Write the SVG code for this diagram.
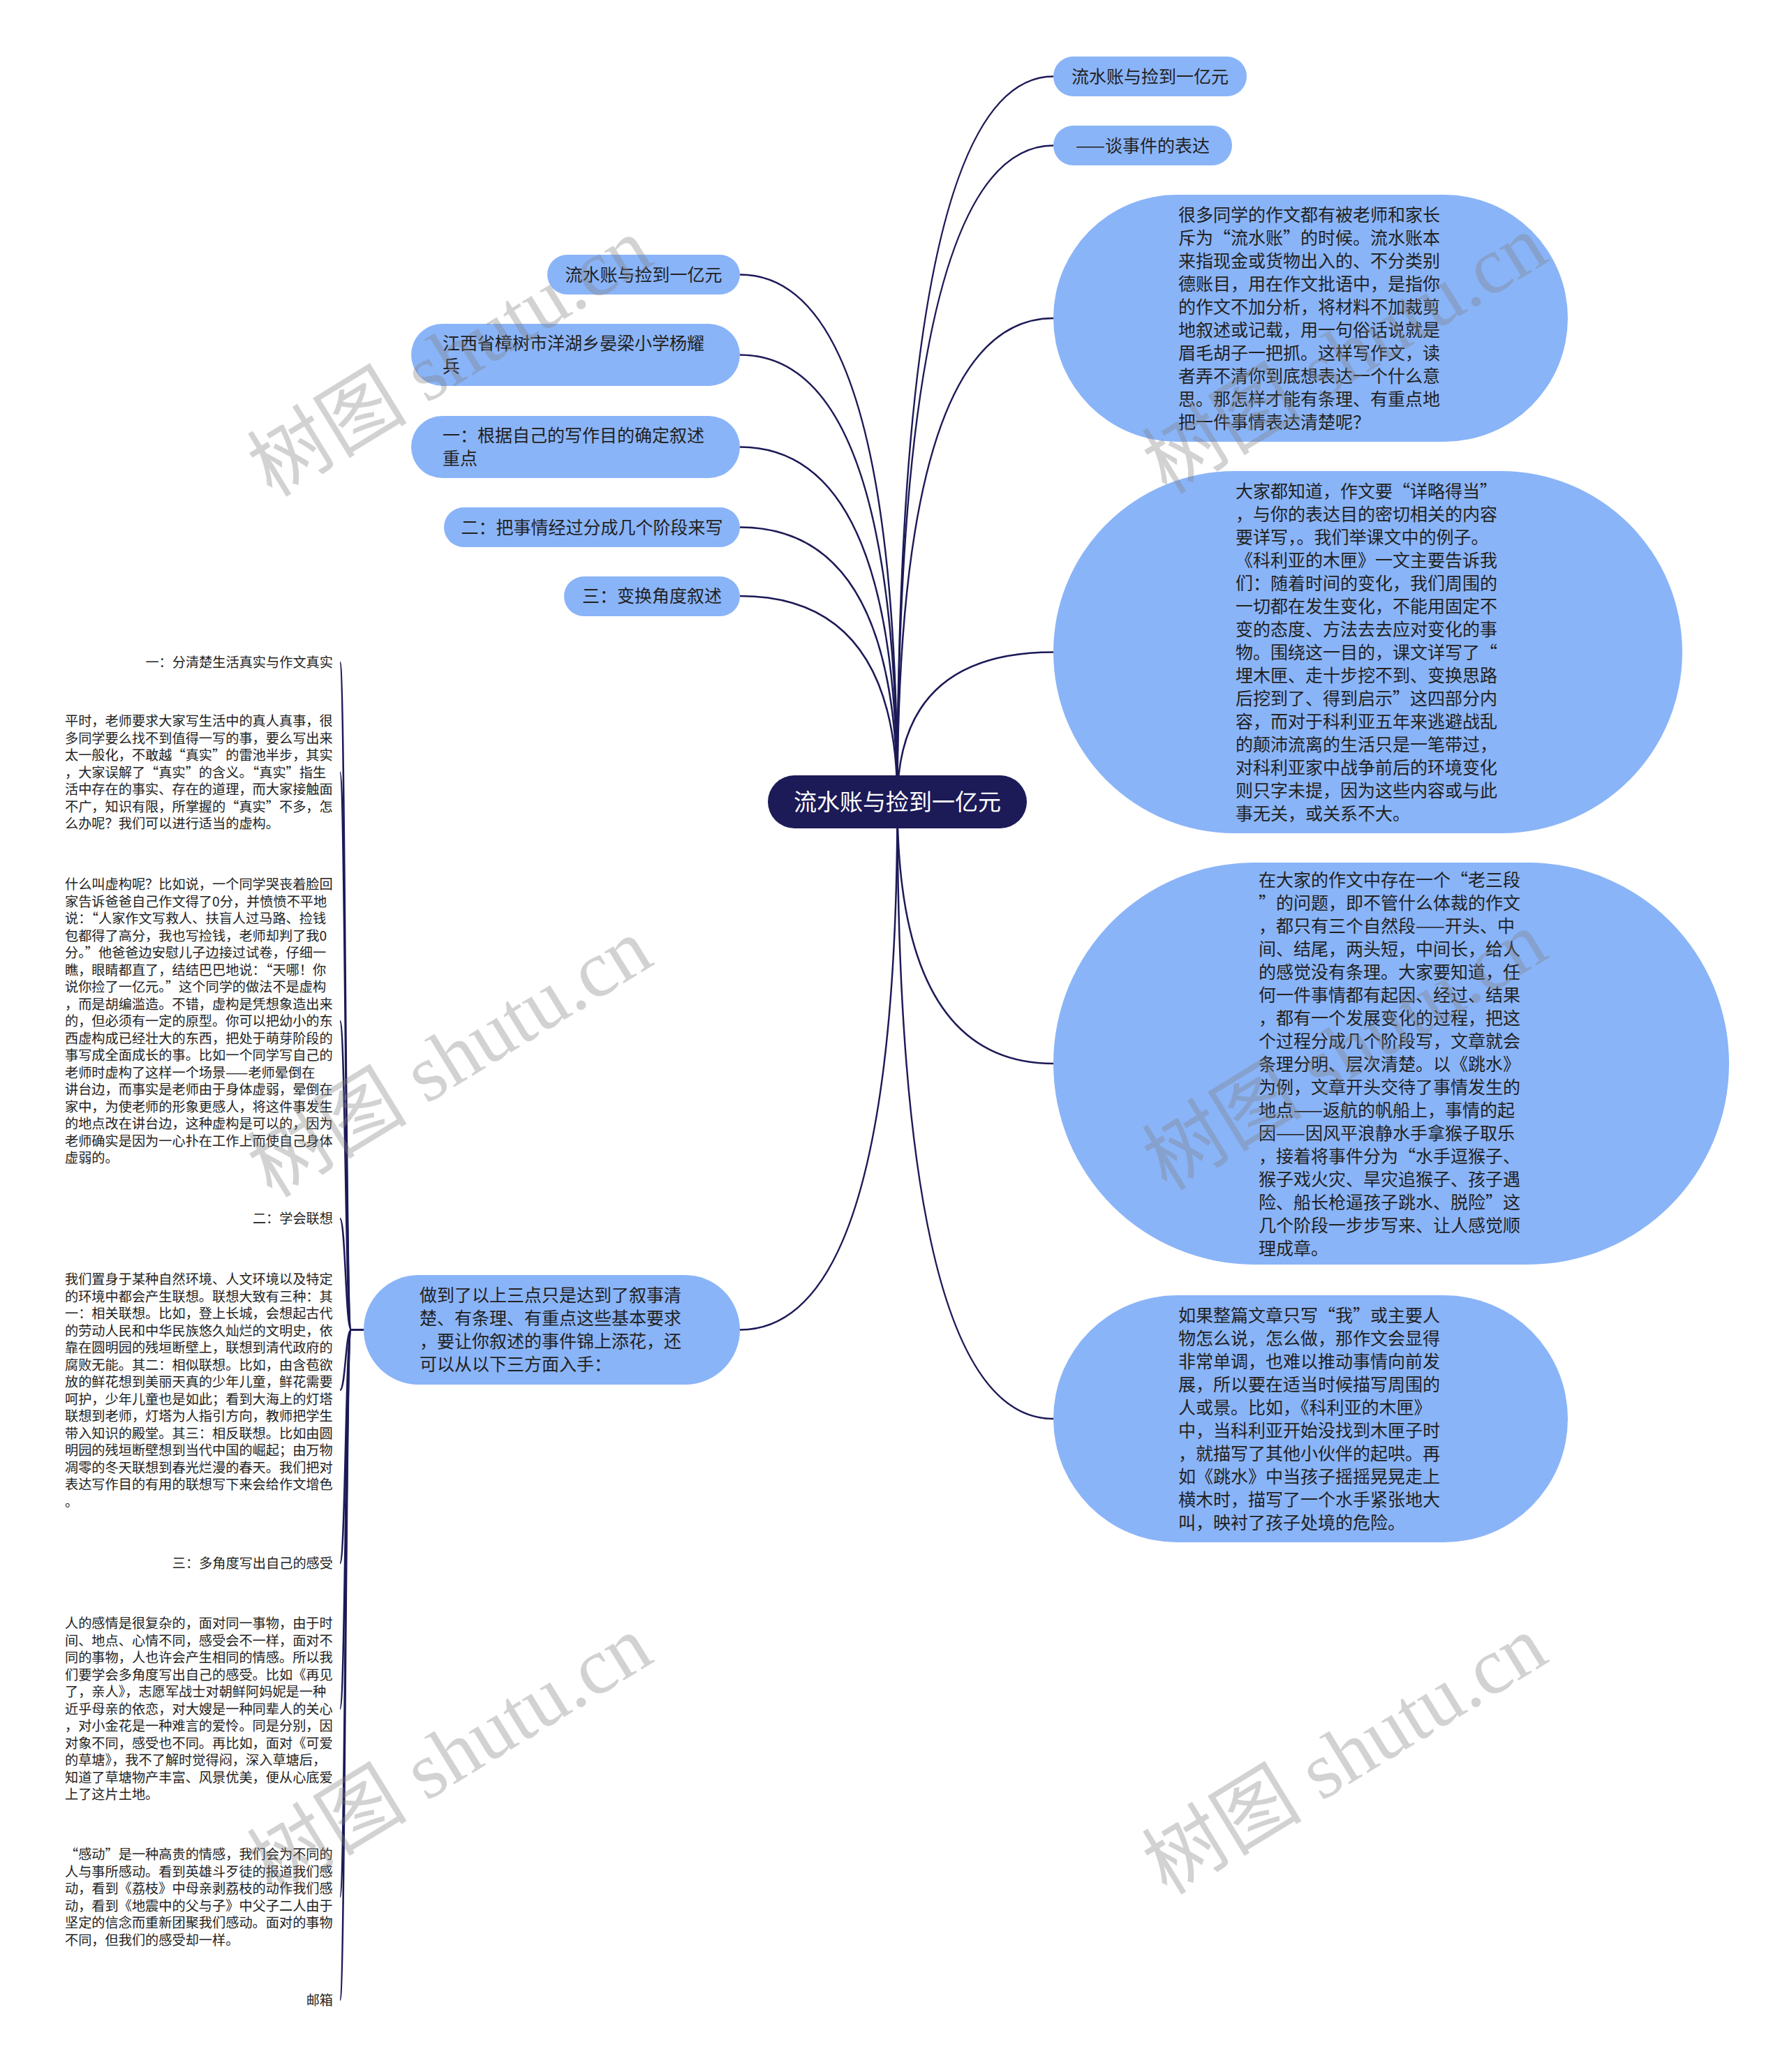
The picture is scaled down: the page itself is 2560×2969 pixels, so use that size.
<svg xmlns="http://www.w3.org/2000/svg" width="2560" height="2969" viewBox="0 0 2560 2969">
<style>
.n{fill:#8ab4f8}
.root{fill:#1c1a57}
.t{font-family:'Noto Sans CJK SC','Liberation Sans',sans-serif;font-size:25px;fill:#222}
.rt{font-family:'Noto Sans CJK SC','Liberation Sans',sans-serif;font-size:33px;fill:#fff}
.s{font-family:'Noto Sans CJK SC','Liberation Sans',sans-serif;font-size:19.2px;fill:#222}
.c{fill:none;stroke:#1c1a57;stroke-width:2.5}
.wm{font-family:'Liberation Serif','Noto Sans CJK SC',serif;font-size:115px;fill:#808080;opacity:0.35}
</style>
<rect width="2560" height="2969" fill="#fff"/>
<g id="connectors">
<path class="c" d="M1285.5 1149 Q1285.5 109.5 1509 109.5"/>
<path class="c" d="M1285.5 1149 Q1285.5 208.5 1509 208.5"/>
<path class="c" d="M1285.5 1149 Q1285.5 456 1509 456"/>
<path class="c" d="M1285.5 1149 Q1285.5 934.5 1509 934.5"/>
<path class="c" d="M1285.5 1149 Q1285.5 1524 1509 1524"/>
<path class="c" d="M1285.5 1149 Q1285.5 2033 1509 2033"/>
<path class="c" d="M1285.5 1149 Q1285.5 393.5 1060 393.5"/>
<path class="c" d="M1285.5 1149 Q1285.5 508.5 1060 508.5"/>
<path class="c" d="M1285.5 1149 Q1285.5 640.5 1060 640.5"/>
<path class="c" d="M1285.5 1149 Q1285.5 755.5 1060 755.5"/>
<path class="c" d="M1285.5 1149 Q1285.5 854 1060 854"/>
<path class="c" d="M1285.5 1149 Q1285.5 1905.5 1060 1905.5"/>
<path class="c" d="M521 1905.5 H503 C495 1905.5 495 949 487 949"/>
<path class="c" d="M521 1905.5 H503 C495 1905.5 495 1106.5 487 1106.5"/>
<path class="c" d="M521 1905.5 H503 C495 1905.5 495 1463 487 1463"/>
<path class="c" d="M521 1905.5 H503 C495 1905.5 495 1746 487 1746"/>
<path class="c" d="M521 1905.5 H503 C495 1905.5 495 1992 487 1992"/>
<path class="c" d="M521 1905.5 H503 C495 1905.5 495 2240 487 2240"/>
<path class="c" d="M521 1905.5 H503 C495 1905.5 495 2448.5 487 2448.5"/>
<path class="c" d="M521 1905.5 H503 C495 1905.5 495 2718 487 2718"/>
<path class="c" d="M521 1905.5 H503 C495 1905.5 495 2866 487 2866"/>
</g>
<g id="root">
<rect class="root" x="1100" y="1111" width="371" height="76" rx="38"/>
<text class="rt" x="1285.5" y="1161" text-anchor="middle">流水账与捡到一亿元</text>
</g>
<g id="r1">
<rect class="n" x="1509" y="81" width="277" height="57" rx="28.5"/>
<text class="t" x="1647.5" y="118.5" text-anchor="middle">流水账与捡到一亿元</text>
</g>
<g id="r2">
<rect class="n" x="1509" y="180" width="256" height="57" rx="28.5"/>
<text class="t" x="1637" y="217.5" text-anchor="middle">——谈事件的表达</text>
</g>
<g id="r3">
<rect class="n" x="1509" y="279" width="737" height="354" rx="177"/>
<text class="t" x="1688" y="317"><tspan>很多同学的作文都有被老师和家长</tspan><tspan x="1688" dy="33">斥为“流水账”的时候。流水账本</tspan><tspan x="1688" dy="33">来指现金或货物出入的、不分类别</tspan><tspan x="1688" dy="33">德账目，用在作文批语中，是指你</tspan><tspan x="1688" dy="33">的作文不加分析，将材料不加裁剪</tspan><tspan x="1688" dy="33">地叙述或记载，用一句俗话说就是</tspan><tspan x="1688" dy="33">眉毛胡子一把抓。这样写作文，读</tspan><tspan x="1688" dy="33">者弄不清你到底想表达一个什么意</tspan><tspan x="1688" dy="33">思。那怎样才能有条理、有重点地</tspan><tspan x="1688" dy="33">把一件事情表达清楚呢？</tspan></text>
</g>
<g id="r4">
<rect class="n" x="1509" y="675" width="901" height="519" rx="259.5"/>
<text class="t" x="1770" y="713"><tspan>大家都知道，作文要“详略得当”</tspan><tspan x="1770" dy="33">，与你的表达目的密切相关的内容</tspan><tspan x="1770" dy="33">要详写，。我们举课文中的例子。</tspan><tspan x="1770" dy="33">《科利亚的木匣》一文主要告诉我</tspan><tspan x="1770" dy="33">们：随着时间的变化，我们周围的</tspan><tspan x="1770" dy="33">一切都在发生变化，不能用固定不</tspan><tspan x="1770" dy="33">变的态度、方法去去应对变化的事</tspan><tspan x="1770" dy="33">物。围绕这一目的，课文详写了“</tspan><tspan x="1770" dy="33">埋木匣、走十步挖不到、变换思路</tspan><tspan x="1770" dy="33">后挖到了、得到启示”这四部分内</tspan><tspan x="1770" dy="33">容，而对于科利亚五年来逃避战乱</tspan><tspan x="1770" dy="33">的颠沛流离的生活只是一笔带过，</tspan><tspan x="1770" dy="33">对科利亚家中战争前后的环境变化</tspan><tspan x="1770" dy="33">则只字未提，因为这些内容或与此</tspan><tspan x="1770" dy="33">事无关，或关系不大。</tspan></text>
</g>
<g id="r5">
<rect class="n" x="1509" y="1236" width="968" height="576" rx="288"/>
<text class="t" x="1803" y="1269.5"><tspan>在大家的作文中存在一个“老三段</tspan><tspan x="1803" dy="33">”的问题，即不管什么体裁的作文</tspan><tspan x="1803" dy="33">，都只有三个自然段——开头、中</tspan><tspan x="1803" dy="33">间、结尾，两头短，中间长，给人</tspan><tspan x="1803" dy="33">的感觉没有条理。大家要知道，任</tspan><tspan x="1803" dy="33">何一件事情都有起因、经过、结果</tspan><tspan x="1803" dy="33">，都有一个发展变化的过程，把这</tspan><tspan x="1803" dy="33">个过程分成几个阶段写，文章就会</tspan><tspan x="1803" dy="33">条理分明、层次清楚。以《跳水》</tspan><tspan x="1803" dy="33">为例，文章开头交待了事情发生的</tspan><tspan x="1803" dy="33">地点——返航的帆船上，事情的起</tspan><tspan x="1803" dy="33">因——因风平浪静水手拿猴子取乐</tspan><tspan x="1803" dy="33">，接着将事件分为“水手逗猴子、</tspan><tspan x="1803" dy="33">猴子戏火灾、旱灾追猴子、孩子遇</tspan><tspan x="1803" dy="33">险、船长枪逼孩子跳水、脱险”这</tspan><tspan x="1803" dy="33">几个阶段一步步写来、让人感觉顺</tspan><tspan x="1803" dy="33">理成章。</tspan></text>
</g>
<g id="r6">
<rect class="n" x="1509" y="1856" width="737" height="354" rx="177"/>
<text class="t" x="1688" y="1894"><tspan>如果整篇文章只写“我”或主要人</tspan><tspan x="1688" dy="33">物怎么说，怎么做，那作文会显得</tspan><tspan x="1688" dy="33">非常单调，也难以推动事情向前发</tspan><tspan x="1688" dy="33">展，所以要在适当时候描写周围的</tspan><tspan x="1688" dy="33">人或景。比如，《科利亚的木匣》</tspan><tspan x="1688" dy="33">中，当科利亚开始没找到木匣子时</tspan><tspan x="1688" dy="33">，就描写了其他小伙伴的起哄。再</tspan><tspan x="1688" dy="33">如《跳水》中当孩子摇摇晃晃走上</tspan><tspan x="1688" dy="33">横木时，描写了一个水手紧张地大</tspan><tspan x="1688" dy="33">叫，映衬了孩子处境的危险。</tspan></text>
</g>
<g id="l1">
<rect class="n" x="784" y="365" width="276" height="57" rx="28.5"/>
<text class="t" x="922" y="402.5" text-anchor="middle">流水账与捡到一亿元</text>
</g>
<g id="l2">
<rect class="n" x="589" y="464" width="471" height="89" rx="44.5"/>
<text class="t" x="634" y="501"><tspan>江西省樟树市洋湖乡晏梁小学杨耀</tspan><tspan x="634" dy="33">兵</tspan></text>
</g>
<g id="l3">
<rect class="n" x="589" y="596" width="471" height="89" rx="44.5"/>
<text class="t" x="634" y="633"><tspan>一：根据自己的写作目的确定叙述</tspan><tspan x="634" dy="33">重点</tspan></text>
</g>
<g id="l4">
<rect class="n" x="636" y="727" width="424" height="57" rx="28.5"/>
<text class="t" x="848" y="764.5" text-anchor="middle">二：把事情经过分成几个阶段来写</text>
</g>
<g id="l5">
<rect class="n" x="808" y="826" width="252" height="57" rx="28.5"/>
<text class="t" x="934" y="863" text-anchor="middle">三：变换角度叙述</text>
</g>
<g id="l6">
<rect class="n" x="521" y="1827" width="539" height="157" rx="78.5"/>
<text class="t" x="601" y="1865"><tspan>做到了以上三点只是达到了叙事清</tspan><tspan x="601" dy="33">楚、有条理、有重点这些基本要求</tspan><tspan x="601" dy="33">，要让你叙述的事件锦上添花，还</tspan><tspan x="601" dy="33">可以从以下三方面入手：</tspan></text>
</g>
<g id="c1">
<text class="s" x="477" y="956" text-anchor="end">一：分清楚生活真实与作文真实</text>
</g>
<g id="c2">
<text class="s" x="93" y="1040"><tspan>平时，老师要求大家写生活中的真人真事，很</tspan><tspan x="93" dy="24.5">多同学要么找不到值得一写的事，要么写出来</tspan><tspan x="93" dy="24.5">太一般化，不敢越“真实”的雷池半步，其实</tspan><tspan x="93" dy="24.5">，大家误解了“真实”的含义。“真实”指生</tspan><tspan x="93" dy="24.5">活中存在的事实、存在的道理，而大家接触面</tspan><tspan x="93" dy="24.5">不广，知识有限，所掌握的“真实”不多，怎</tspan><tspan x="93" dy="24.5">么办呢？我们可以进行适当的虚构。</tspan></text>
</g>
<g id="c3">
<text class="s" x="93" y="1274"><tspan>什么叫虚构呢？比如说，一个同学哭丧着脸回</tspan><tspan x="93" dy="24.5">家告诉爸爸自己作文得了0分，并愤愤不平地</tspan><tspan x="93" dy="24.5">说：“人家作文写救人、扶盲人过马路、捡钱</tspan><tspan x="93" dy="24.5">包都得了高分，我也写捡钱，老师却判了我0</tspan><tspan x="93" dy="24.5">分。”他爸爸边安慰儿子边接过试卷，仔细一</tspan><tspan x="93" dy="24.5">瞧，眼睛都直了，结结巴巴地说：“天哪！你</tspan><tspan x="93" dy="24.5">说你捡了一亿元。”这个同学的做法不是虚构</tspan><tspan x="93" dy="24.5">，而是胡编滥造。不错，虚构是凭想象造出来</tspan><tspan x="93" dy="24.5">的，但必须有一定的原型。你可以把幼小的东</tspan><tspan x="93" dy="24.5">西虚构成已经壮大的东西，把处于萌芽阶段的</tspan><tspan x="93" dy="24.5">事写成全面成长的事。比如一个同学写自己的</tspan><tspan x="93" dy="24.5">老师时虚构了这样一个场景——老师晕倒在</tspan><tspan x="93" dy="24.5">讲台边，而事实是老师由于身体虚弱，晕倒在</tspan><tspan x="93" dy="24.5">家中，为使老师的形象更感人，将这件事发生</tspan><tspan x="93" dy="24.5">的地点改在讲台边，这种虚构是可以的，因为</tspan><tspan x="93" dy="24.5">老师确实是因为一心扑在工作上而使自己身体</tspan><tspan x="93" dy="24.5">虚弱的。</tspan></text>
</g>
<g id="c4">
<text class="s" x="477" y="1753" text-anchor="end">二：学会联想</text>
</g>
<g id="c5">
<text class="s" x="93" y="1840"><tspan>我们置身于某种自然环境、人文环境以及特定</tspan><tspan x="93" dy="24.5">的环境中都会产生联想。联想大致有三种：其</tspan><tspan x="93" dy="24.5">一：相关联想。比如，登上长城，会想起古代</tspan><tspan x="93" dy="24.5">的劳动人民和中华民族悠久灿烂的文明史，依</tspan><tspan x="93" dy="24.5">靠在圆明园的残垣断壁上，联想到清代政府的</tspan><tspan x="93" dy="24.5">腐败无能。其二：相似联想。比如，由含苞欲</tspan><tspan x="93" dy="24.5">放的鲜花想到美丽天真的少年儿童，鲜花需要</tspan><tspan x="93" dy="24.5">呵护，少年儿童也是如此；看到大海上的灯塔</tspan><tspan x="93" dy="24.5">联想到老师，灯塔为人指引方向，教师把学生</tspan><tspan x="93" dy="24.5">带入知识的殿堂。其三：相反联想。比如由圆</tspan><tspan x="93" dy="24.5">明园的残垣断壁想到当代中国的崛起；由万物</tspan><tspan x="93" dy="24.5">凋零的冬天联想到春光烂漫的春天。我们把对</tspan><tspan x="93" dy="24.5">表达写作目的有用的联想写下来会给作文增色</tspan><tspan x="93" dy="24.5">。</tspan></text>
</g>
<g id="c6">
<text class="s" x="477" y="2247" text-anchor="end">三：多角度写出自己的感受</text>
</g>
<g id="c7">
<text class="s" x="93" y="2333"><tspan>人的感情是很复杂的，面对同一事物，由于时</tspan><tspan x="93" dy="24.5">间、地点、心情不同，感受会不一样，面对不</tspan><tspan x="93" dy="24.5">同的事物，人也许会产生相同的情感。所以我</tspan><tspan x="93" dy="24.5">们要学会多角度写出自己的感受。比如《再见</tspan><tspan x="93" dy="24.5">了，亲人》，志愿军战士对朝鲜阿妈妮是一种</tspan><tspan x="93" dy="24.5">近乎母亲的依恋，对大嫂是一种同辈人的关心</tspan><tspan x="93" dy="24.5">，对小金花是一种难言的爱怜。同是分别，因</tspan><tspan x="93" dy="24.5">对象不同，感受也不同。再比如，面对《可爱</tspan><tspan x="93" dy="24.5">的草塘》，我不了解时觉得闷，深入草塘后，</tspan><tspan x="93" dy="24.5">知道了草塘物产丰富、风景优美，便从心底爱</tspan><tspan x="93" dy="24.5">上了这片土地。</tspan></text>
</g>
<g id="c8">
<text class="s" x="93" y="2664"><tspan>“感动”是一种高贵的情感，我们会为不同的</tspan><tspan x="93" dy="24.5">人与事所感动。看到英雄斗歹徒的报道我们感</tspan><tspan x="93" dy="24.5">动，看到《荔枝》中母亲剥荔枝的动作我们感</tspan><tspan x="93" dy="24.5">动，看到《地震中的父与子》中父子二人由于</tspan><tspan x="93" dy="24.5">坚定的信念而重新团聚我们感动。面对的事物</tspan><tspan x="93" dy="24.5">不同，但我们的感受却一样。</tspan></text>
</g>
<g id="c9">
<text class="s" x="477" y="2873" text-anchor="end">邮箱</text>
</g>
<g id="watermark">
<text class="wm" x="644" y="551" text-anchor="middle" transform="rotate(-31.5 644 511)">树图 shutu.cn</text>
<text class="wm" x="1926" y="547" text-anchor="middle" transform="rotate(-31.5 1926 507)">树图 shutu.cn</text>
<text class="wm" x="644" y="1555" text-anchor="middle" transform="rotate(-31.5 644 1515)">树图 shutu.cn</text>
<text class="wm" x="1926" y="1545" text-anchor="middle" transform="rotate(-31.5 1926 1505)">树图 shutu.cn</text>
<text class="wm" x="644" y="2554" text-anchor="middle" transform="rotate(-31.5 644 2514)">树图 shutu.cn</text>
<text class="wm" x="1926" y="2554" text-anchor="middle" transform="rotate(-31.5 1926 2514)">树图 shutu.cn</text>
</g>
</svg>
